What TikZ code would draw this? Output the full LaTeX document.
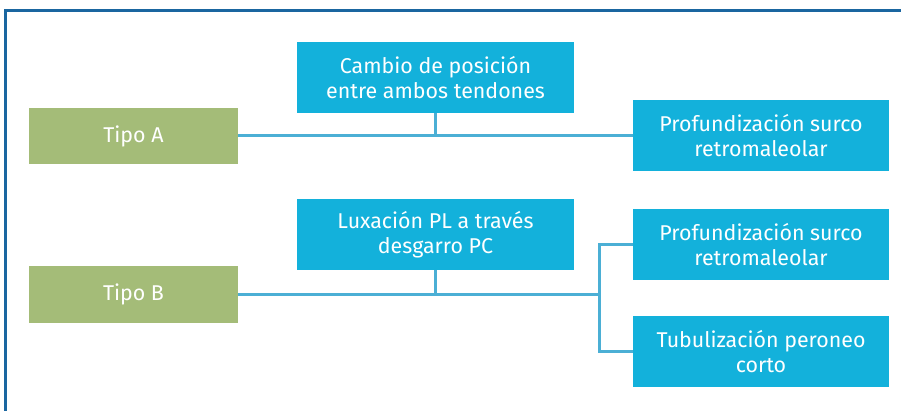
\documentclass[tikz,border=0pt]{standalone}
\usepackage{fontspec}
\setmainfont{Fira Sans}
\definecolor{frameblue}{HTML}{1A66A0}
\definecolor{linkblue}{HTML}{4BAFD5}
\definecolor{boxblue}{HTML}{13B1DB}
\definecolor{tipogreen}{HTML}{A4BC78}

\begin{document}
\begin{tikzpicture}[x=1pt,y=-1pt]

\tikzstyle{tipo} = [rectangle, fill=tipogreen, text=white, minimum width=209pt, minimum height=56pt, inner sep=0pt, font=\fontsize{21.4}{25}\selectfont]
\tikzstyle{op} = [rectangle, fill=boxblue, text=white, minimum height=71pt, inner sep=0pt, align=center, font=\fontsize{21.4}{25}\selectfont]
\tikzstyle{con} = [draw=linkblue, line width=3pt]

\useasboundingbox (0,0) rectangle (901,411);
\draw[frameblue, line width=3pt] (5.5,411) -- (5.5,10.5) -- (901,10.5);

\node (tipoa) [tipo] at (133.5,136) {Tipo A};
\node (tipob) [tipo] at (133.5,294.5) {Tipo B};
\node (cambio) [op, minimum width=277pt] at (435.5,77.5) {Cambio de posición\\entre ambos tendones};
\node (luxa) [op, minimum width=277pt] at (435.5,234.5) {Luxación PL a través\\desgarro PC};
\node (prof1) [op, minimum width=256pt] at (761,136) {Profundización surco\\retromaleolar};
\node (prof2) [op, minimum width=256pt] at (761,244.5) {Profundización surco\\retromaleolar};
\node (tubu) [op, minimum width=256pt] at (761,351.5) {Tubulización peroneo\\corto};
\coordinate (fork) at (599,294.5);

\draw[con] (tipoa.east) -- (prof1.west);
\draw[con] (cambio.south) -- (cambio.south |- tipoa.east);
\draw[con] (tipob.east) -- (fork);
\draw[con] (prof2.west) -| (fork) |- (tubu.west);
\draw[con] (luxa.south) -- (luxa.south |- tipob.east);
\end{tikzpicture}
\end{document}
